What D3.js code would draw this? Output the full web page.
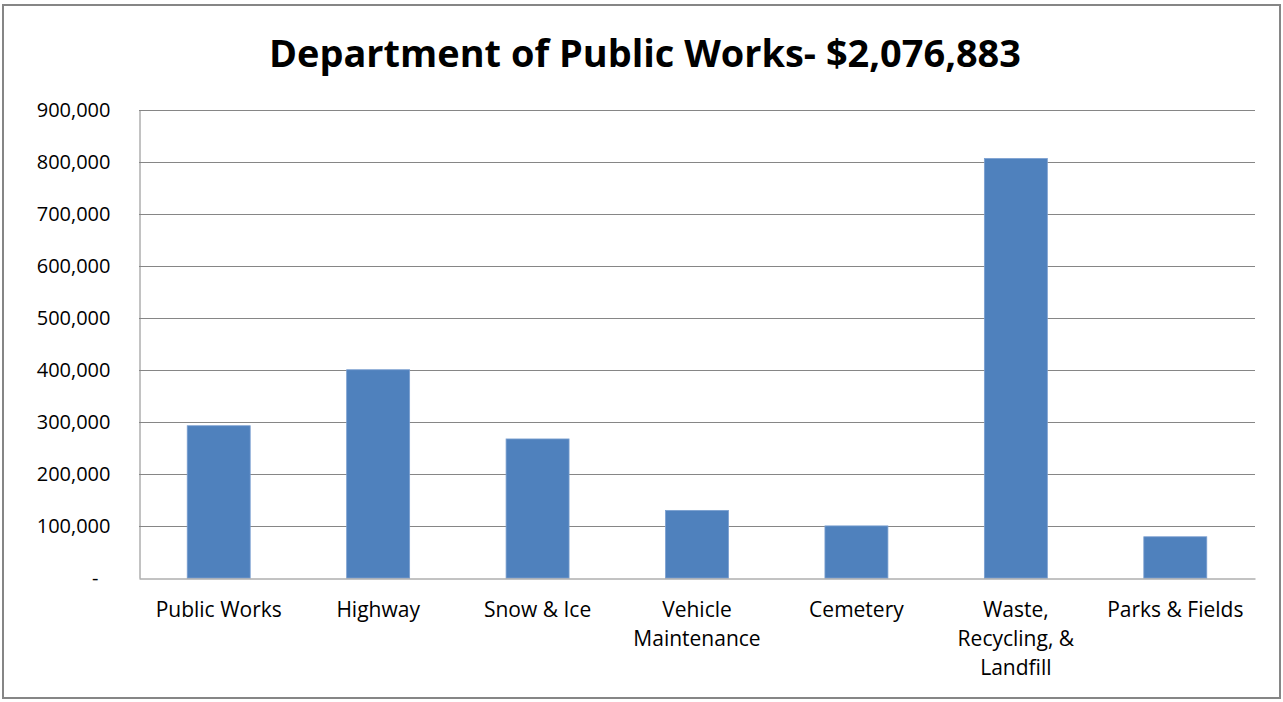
<!DOCTYPE html>
<html>
<head>
<meta charset="utf-8">
<script src="https://cdn.jsdelivr.net/npm/d3@7"></script>
<style>
  html, body { margin: 0; padding: 0; background: #ffffff; }
  svg { display: block; }
  text { font-family: "Open Sans", "Noto Sans", sans-serif; fill: #000; }
</style>
</head>
<body>
<svg id="chart" width="1283" height="702"></svg>
<script>
// Department of Public Works budget by division
const chartTitle = "Department of Public Works- $2,076,883";
const categories = [
  ["Public Works"],
  ["Highway"],
  ["Snow & Ice"],
  ["Vehicle", "Maintenance"],
  ["Cemetery"],
  ["Waste,", "Recycling, &", "Landfill"],
  ["Parks & Fields"]
];
const budget = [292800, 400500, 267400, 130000, 100200, 806700, 79283];
const yTicks = [0, 100000, 200000, 300000, 400000, 500000, 600000, 700000, 800000, 900000];

const plot = { left: 139, right: 1255, top: 110, bottom: 578 };

const svg = d3.select("#chart");

// outer frame
svg.append("rect")
  .attr("x", 3).attr("y", 5)
  .attr("width", 1277).attr("height", 693)
  .attr("fill", "#fff")
  .attr("stroke", "#868686")
  .attr("stroke-width", 2);

// title
svg.append("text")
  .attr("x", 645).attr("y", 67)
  .attr("text-anchor", "middle")
  .attr("font-size", 37)
  .attr("font-weight", 700)
  .attr("textLength", 752)
  .attr("lengthAdjust", "spacingAndGlyphs")
  .text(chartTitle);

const keys = categories.map(c => c.join(" "));
const x = d3.scaleBand()
  .domain(keys)
  .range([plot.left, plot.right])
  .paddingInner(0.605)
  .paddingOuter(0.3025);

const y = d3.scaleLinear()
  .domain([0, 900000])
  .range([plot.bottom, plot.top]);

// horizontal gridlines
svg.append("g")
  .selectAll("line")
  .data(yTicks.filter(d => d > 0))
  .join("line")
  .attr("x1", plot.left).attr("x2", plot.right)
  .attr("y1", d => Math.round(y(d)) + 0.5)
  .attr("y2", d => Math.round(y(d)) + 0.5)
  .attr("stroke", "#868686")
  .attr("stroke-width", 1);

// bars
svg.append("g")
  .selectAll("rect")
  .data(budget)
  .join("rect")
  .attr("x", (d, i) => x(keys[i]))
  .attr("y", d => y(d))
  .attr("width", x.bandwidth())
  .attr("height", d => y(0) - y(d))
  .attr("fill", "#4F81BD")
  .attr("stroke", "#7a9fd0")
  .attr("stroke-width", 0.8);

// y axis
const fmt = d3.format(",");
const yAxis = d3.axisLeft(y)
  .tickValues(yTicks)
  .tickSize(0)
  .tickPadding(29)
  .tickFormat(d => d === 0 ? "-" : fmt(d));

const gy = svg.append("g")
  .attr("transform", `translate(${plot.left + 0.5},0)`)
  .call(yAxis);
gy.select(".domain").attr("stroke", "#868686").attr("stroke-width", 1);
gy.selectAll(".tick text")
  .attr("font-size", 20)
  .attr("font-family", "'Open Sans', sans-serif")
  .attr("fill", "#000")
  .attr("dx", d => d === 0 ? -12 : 0);

// x axis
const xAxis = d3.axisBottom(x).tickSize(0).tickFormat("");
const gx = svg.append("g")
  .attr("transform", `translate(0,${plot.bottom + 0.5})`)
  .call(xAxis);
gx.select(".domain").attr("stroke", "#868686").attr("stroke-width", 1);

// multi-line category labels
gx.selectAll(".tick").each(function(d) {
  const lines = categories[keys.indexOf(d)];
  const t = d3.select(this).select("text")
    .attr("font-size", 21)
    .attr("font-family", "'Open Sans', sans-serif")
    .attr("fill", "#000")
    .attr("y", 0)
    .attr("dy", 0)
    .text(null);
  lines.forEach((ln, i) => {
    t.append("tspan")
      .attr("x", 0)
      .attr("y", 38 + i * 29)
      .text(ln);
  });
});
</script>
</body>
</html>
